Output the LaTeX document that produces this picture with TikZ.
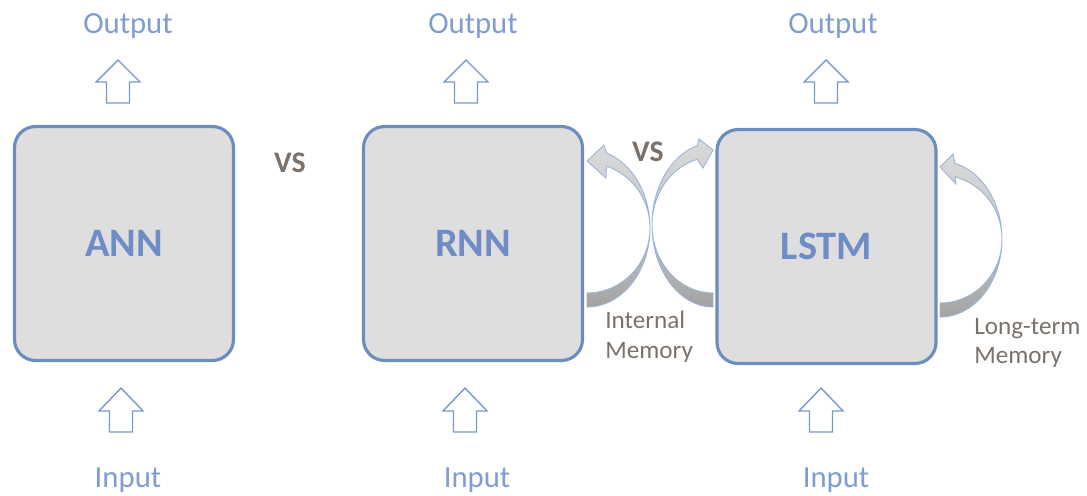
\documentclass[tikz,border=0pt]{standalone}
\usepackage{fontspec}
\setmainfont{Carlito}
\definecolor{boxblue}{HTML}{6C8EBF}
\definecolor{boxgray}{HTML}{DEDEDE}
\definecolor{textblue}{HTML}{6E8DC6}
\definecolor{lightblue}{HTML}{7F9DCE}
\definecolor{arrowblue}{HTML}{7A98C9}
\definecolor{memgray}{HTML}{7A716A}
\definecolor{curveblue}{HTML}{9BB2D9}
\definecolor{shadelight}{HTML}{DADADA}
\definecolor{shadedark}{HTML}{A3A3A3}
\newcommand\UpBlockArrow[4]{% center x, tip y, head base y, bottom y
  \draw[blockarr] (#1,#2) -- (#1+22,#3) -- (#1+11.5,#3) -- (#1+11.5,#4)
    -- (#1-11.5,#4) -- (#1-11.5,#3) -- (#1-22,#3) -- cycle;}
\begin{document}
\begin{tikzpicture}[x=0.02cm,y=-0.02cm,
  box/.style={draw=boxblue, line width=1.8pt, fill=boxgray, rounded corners=0.42cm,
    minimum width=4.38cm, minimum height=4.68cm,
    font=\fontsize{23}{26}\selectfont\bfseries, text=textblue},
  iolabel/.style={font=\fontsize{17.5}{20}\selectfont, text=lightblue, inner sep=0pt},
  vslabel/.style={font=\fontsize{17}{20}\selectfont\bfseries, text=memgray, inner sep=0pt},
  memlabel/.style={font=\fontsize{14.3}{17}\selectfont, text=memgray, align=left, inner sep=0pt},
  blockarr/.style={draw=arrowblue, line width=0.8pt, fill=white, line join=miter},
  curvearr/.style={draw=curveblue, line width=0.5pt, top color=shadelight, bottom color=shadedark, middle color=gray!45}]
\useasboundingbox (0,0) rectangle (1087,495);

% boxes
\node[box] (ann) at (124,243.5) {ANN};
\node[box] (rnn) at (473,243.5) {RNN};
\node[box] (lstm) at (826.5,246.5) {LSTM};

% labels
\node[iolabel] (outA) at (128,26) {Output};
\node[iolabel] (outR) at (473,26) {Output};
\node[iolabel] (outL) at (833,26) {Output};
\node[iolabel] (inA) at (128,480) {Input};
\node[iolabel] (inR) at (477,480) {Input};
\node[iolabel] (inL) at (836,480) {Input};

\node[vslabel] (vs1) at (290,163) {VS};
\node[vslabel] (vs2) at (648,152) {VS};

\node[memlabel, anchor=west] (mem1) at (605,337) {Internal\\Memory};
\node[memlabel, anchor=west] (mem2) at (974,343) {Long-term\\Memory};

% block arrows
\UpBlockArrow{118}{60}{82}{103}
\UpBlockArrow{121}{388}{411}{432}
\UpBlockArrow{466}{60}{82}{103}
\UpBlockArrow{465}{388}{411}{432}
\UpBlockArrow{826}{60}{82}{103}
\UpBlockArrow{821}{388}{411}{432}

% curved arrows
\path[curvearr] plot[domain=90:-72, samples=50] ({587+63*cos(\x)},{228+79*sin(\x)})
  -- (604,145) -- (587,161) -- (606,178)
  -- plot[domain=-72:90, samples=50] ({587+63*cos(\x)},{228+65*sin(\x)}) -- cycle;

\path[curvearr] plot[domain=90:-75, samples=50] ({713-61*cos(\x)},{225+82*sin(\x)})
  -- (699,139) -- (713,150) -- (703,168)
  -- plot[domain=-75:90, samples=50] ({713-61*cos(\x)},{225+68*sin(\x)}) -- cycle;

\path[curvearr] plot[domain=90:-76, samples=50] ({940+62*cos(\x)},{239+78*sin(\x)})
  -- (953,154) -- (940,167) -- (956,184)
  -- plot[domain=-76:90, samples=50] ({940+62*cos(\x)},{239+64*sin(\x)}) -- cycle;
\end{tikzpicture}
\end{document}
